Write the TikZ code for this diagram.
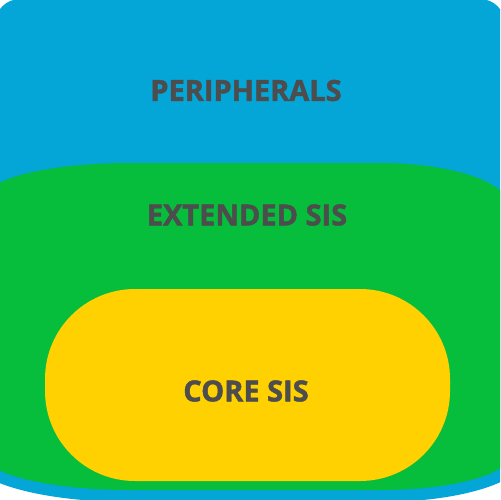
\documentclass[tikz,border=0pt]{standalone}
\usepackage{tikz}
\usepackage{xcolor}
\usepackage{fontspec}
\setmainfont{Open Sans}[BoldFeatures={FakeBold=1.6}]
\definecolor{periblue}{RGB}{3,166,214}
\definecolor{extgreen}{RGB}{6,190,60}
\definecolor{coreyellow}{RGB}{255,209,0}
\definecolor{labelgrey}{RGB}{77,77,77}
\tikzset{layerlabel/.style={text=labelgrey, font=\fontsize{16.5}{19}\selectfont\bfseries, inner sep=0pt}}

\begin{document}
\begin{tikzpicture}[x=0.02cm, y=-0.02cm]
  % Fix the page to the picture
  \useasboundingbox (0,0) rectangle (500,500);
  \clip (0,0) rectangle (500,500);

  % Outer layer
  \fill[periblue] (20,-1) -- (480,-1)
    .. controls (493.8,-1) and (505,10.2) .. (505,24)
    -- (525,457)
    .. controls (525,481.9) and (460.1,502) .. (380,502)
    -- (130,502)
    .. controls (41.6,502) and (-30,481.9) .. (-30,457)
    -- (-5,24)
    .. controls (-5,10.2) and (6.2,-1) .. (20,-1) -- cycle;

  % Middle layer
  \fill[extgreen] (130,163) -- (380,163)
    .. controls (451.8,163) and (510,182.7) .. (510,207)
    -- (510,455)
    .. controls (510,474.3) and (451.8,490) .. (380,490)
    -- (130,490)
    .. controls (49.9,490) and (-15,474.3) .. (-15,455)
    -- (-15,198)
    .. controls (-15,178.7) and (49.9,163) .. (130,163) -- cycle;

  % Inner layer
  \fill[coreyellow, rounded corners=1.8cm] (45,289) rectangle (450,481);

  \node[layerlabel] (peri) at (246,90.5) {PERIPHERALS};
  \node[layerlabel] (ext) at (247,215) {EXTENDED SIS};
  \node[layerlabel] (core) at (246,391) {CORE SIS};
\end{tikzpicture}
\end{document}
